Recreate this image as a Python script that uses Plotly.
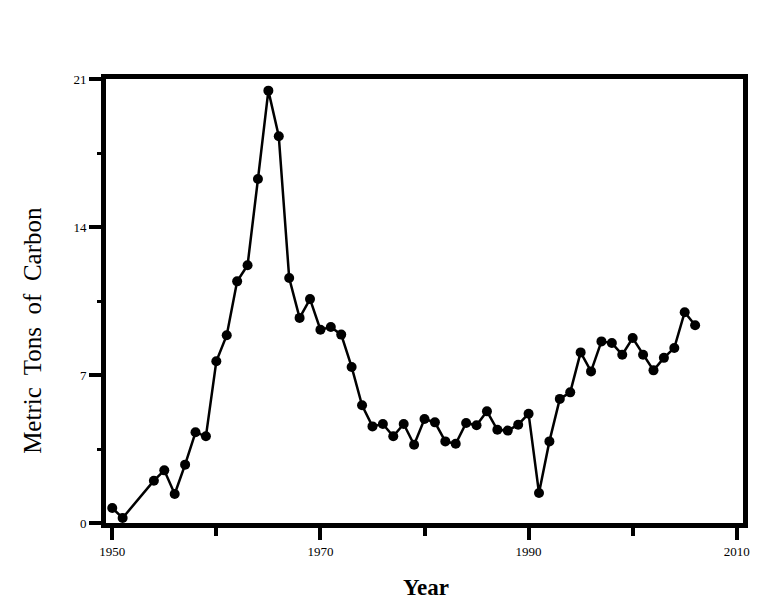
import plotly.graph_objects as go

years = [1950, 1951, 1954, 1955, 1956, 1957, 1958, 1959, 1960, 1961,
         1962, 1963, 1964, 1965, 1966, 1967, 1968, 1969, 1970, 1971,
         1972, 1973, 1974, 1975, 1976, 1977, 1978, 1979, 1980, 1981,
         1982, 1983, 1984, 1985, 1986, 1987, 1988, 1989, 1990, 1991,
         1992, 1993, 1994, 1995, 1996, 1997, 1998, 1999, 2000, 2001,
         2002, 2003, 2004, 2005, 2006]
carbon = [0.71, 0.24, 2.0, 2.49, 1.37, 2.76, 4.29, 4.10, 7.65, 8.88,
          11.43, 12.19, 16.27, 20.45, 18.29, 11.59, 9.70, 10.59, 9.14, 9.27,
          8.91, 7.38, 5.57, 4.57, 4.68, 4.10, 4.68, 3.70, 4.92, 4.76,
          3.86, 3.75, 4.73, 4.62, 5.28, 4.41, 4.37, 4.65, 5.17, 1.42,
          3.86, 5.87, 6.18, 8.07, 7.17, 8.59, 8.51, 7.96, 8.75, 7.96,
          7.22, 7.81, 8.28, 9.97, 9.35]

x_ticks = [1950, 1970, 1990, 2010]
y_ticks = [0, 7, 14, 21]

FONT = "Liberation Serif"

fig = go.Figure()
fig.add_trace(go.Scatter(
    x=years, y=carbon, mode="lines+markers",
    line=dict(color="black", width=2.5),
    marker=dict(color="black", size=10),
    showlegend=False,
))

fig.update_layout(
    width=760, height=600,
    margin=dict(l=98, r=25, t=71, b=85),
    paper_bgcolor="white", plot_bgcolor="white",
    font=dict(family=FONT, color="black", size=13),
    xaxis=dict(
        range=[1949.4, 2010.6], tickvals=x_ticks, ticktext=[str(v) for v in x_ticks],
        showgrid=False, zeroline=False,
        showline=True, linewidth=5, linecolor="black", mirror=True,
        ticks="outside", ticklen=12, tickwidth=4, tickcolor="black",
        tickfont=dict(family=FONT, size=13),
        minor=dict(tickvals=[1960, 1980, 2000], ticks="outside", ticklen=8,
                   tickwidth=4, tickcolor="black", showgrid=False),
    ),
    yaxis=dict(
        range=[0, 21], tickvals=y_ticks, ticktext=[str(v) for v in y_ticks],
        showgrid=False, zeroline=False,
        showline=True, linewidth=5, linecolor="black", mirror=True,
        ticks="outside", ticklen=12, tickwidth=4, tickcolor="black",
        tickfont=dict(family=FONT, size=13),
        minor=dict(tickvals=[3.5, 10.5, 17.5], ticks="outside", ticklen=4,
                   tickwidth=3, tickcolor="black", showgrid=False),
    ),
    annotations=[
        dict(text="<b>Year</b>", xref="paper", yref="paper",
             x=0.502, y=-0.145, xanchor="center", yanchor="middle",
             showarrow=False, font=dict(family=FONT, size=23, color="black")),
        dict(text="Metric  Tons  of  Carbon", xref="paper", yref="paper",
             x=-0.1146, y=0.435, xanchor="center", yanchor="middle", textangle=-90,
             showarrow=False, font=dict(family=FONT, size=25, color="black")),
    ],
)

fig.write_html("out.html")
